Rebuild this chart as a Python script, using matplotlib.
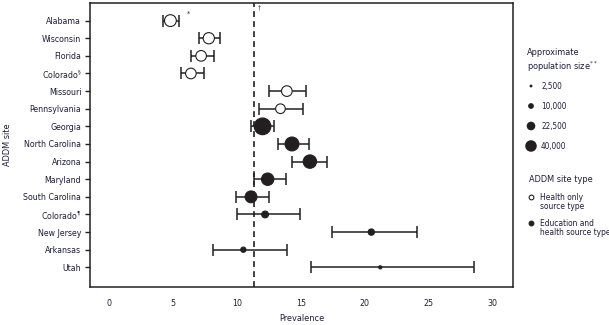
import matplotlib
matplotlib.use("Agg")
import matplotlib.pyplot as plt
import numpy as np

# ADDM sites, top to bottom
sites = ["Alabama", "Wisconsin", "Florida", "Colorado$^{§}$", "Missouri",
         "Pennsylvania", "Georgia", "North Carolina", "Arizona", "Maryland",
         "South Carolina", "Colorado$^{¶}$", "New Jersey", "Arkansas", "Utah"]
prevalence = [4.8, 7.8, 7.2, 6.4, 13.9, 13.4, 12.0, 14.3, 15.7, 12.4,
              11.1, 12.2, 20.5, 10.5, 21.2]
ci_low = [4.2, 7.0, 6.4, 5.6, 12.5, 11.7, 11.1, 13.2, 14.3, 11.3,
          9.9, 10.0, 17.4, 8.1, 15.8]
ci_high = [5.5, 8.7, 8.2, 7.4, 15.4, 15.2, 12.9, 15.6, 17.0, 13.8,
           12.5, 14.9, 24.1, 13.9, 28.5]
population = [42000, 38000, 34000, 34000, 34000, 28000, 84000, 58000, 54000,
              46000, 42000, 14000, 12000, 8300, 3000]
health_only = [True, True, True, True, True, True, False, False, False, False,
               False, False, False, False, False]
overall = 11.3

legend_pops = [2500, 10000, 22500, 40000]
legend_labels = ["2,500", "10,000", "22,500", "40,000"]
xticks = [0, 5, 10, 15, 20, 25, 30]

plt.rcParams["font.family"] = ["DejaVu Sans"]
plt.rcParams["font.stretch"] = "condensed"
plt.rcParams["mathtext.fontset"] = "custom"
plt.rcParams["mathtext.rm"] = "DejaVu Sans:stretch=condensed"

INK = "#231f20"
TXT = "#1f1d3a"
DPI = 100
FS = 6.3


def diam_pt(pop):
    # marker area proportional to population
    return 8.3 * np.sqrt(np.asarray(pop) / 40000.0)


fig = plt.figure(figsize=(6.09, 3.25), dpi=DPI)
ax = fig.add_axes([0.1483, 0.1178, 0.6946, 0.873])

n = len(sites)
ypos = np.arange(n, 0, -1)
prev = np.array(prevalence)
lo = prev - np.array(ci_low)
hi = np.array(ci_high) - prev

ax.axvline(overall, color=INK, lw=1.2, ls=(0, (3.5, 2.5)), zorder=1)
ax.errorbar(prev, ypos, xerr=[lo, hi], fmt="none", ecolor=INK, elinewidth=1.1,
            capsize=4, capthick=1.1, zorder=2)

d = diam_pt(population)
face = ["white" if h else INK for h in health_only]
ax.scatter(prev, ypos, s=d ** 2, c=face, edgecolors=INK, linewidths=0.8, zorder=3)

ax.set_xlim(-1.46, 31.6)
ax.set_ylim(-0.1, 16.0)
ax.set_yticks(ypos)
ax.set_yticklabels(sites, fontsize=FS, color=TXT)
ax.set_xticks(xticks)
ax.set_xticklabels([str(t) for t in xticks], fontsize=FS, color=TXT)
ax.tick_params(axis="y", length=3.5, width=1.0, color=INK, pad=3)
ax.tick_params(axis="x", length=0, pad=9)
for sp in ax.spines.values():
    sp.set_color(INK)
    sp.set_linewidth(1.1)
ax.set_xlabel("Prevalence", fontsize=FS + 0.3, color=TXT, labelpad=4)
ax.set_ylabel("ADDM site", fontsize=FS + 0.3, color=TXT, labelpad=8)

# footnote marks
ax.annotate("*", xy=(prev[0], ypos[0]), xytext=(12, 5), textcoords="offset points",
            fontsize=5, color=TXT, ha="left", va="center")
ax.annotate("†", xy=(overall, 16.0), xytext=(3, -3.5), textcoords="offset points",
            fontsize=5, color="#3a5a8a", ha="left", va="center")

# legend panel in pixel coordinates
lg = fig.add_axes([0, 0, 1, 1], zorder=-1)
lg.set_xlim(0, 609)
lg.set_ylim(325, 0)
lg.axis("off")

lg.text(527, 61, "Approximate\npopulation size$^{**}$", fontsize=FS + 0.3, color=TXT,
        ha="left", va="center", linespacing=1.2)
for i, (p, lab) in enumerate(zip(legend_pops, legend_labels)):
    yy = 86 + i * 20
    lg.scatter([531], [yy], s=diam_pt(p) ** 2, c=INK, edgecolors="none")
    lg.text(541, yy, lab, fontsize=FS - 0.4, color=TXT, ha="left", va="center")

lg.text(529, 180, "ADDM site type", fontsize=FS + 0.3, color=TXT, ha="left", va="center")
lg.scatter([531], [197], s=3.4 ** 2, c="white", edgecolors=INK, linewidths=0.8)
lg.text(540, 202, "Health only\nsource type", fontsize=FS - 0.3, color=TXT,
        ha="left", va="center", linespacing=1.1)
lg.scatter([531], [223], s=3.4 ** 2, c=INK, edgecolors=INK, linewidths=0.8)
lg.text(540, 228, "Education and\nhealth source type", fontsize=FS - 0.3, color=TXT,
        ha="left", va="center", linespacing=1.1)

fig.savefig("out.png", dpi=DPI)
